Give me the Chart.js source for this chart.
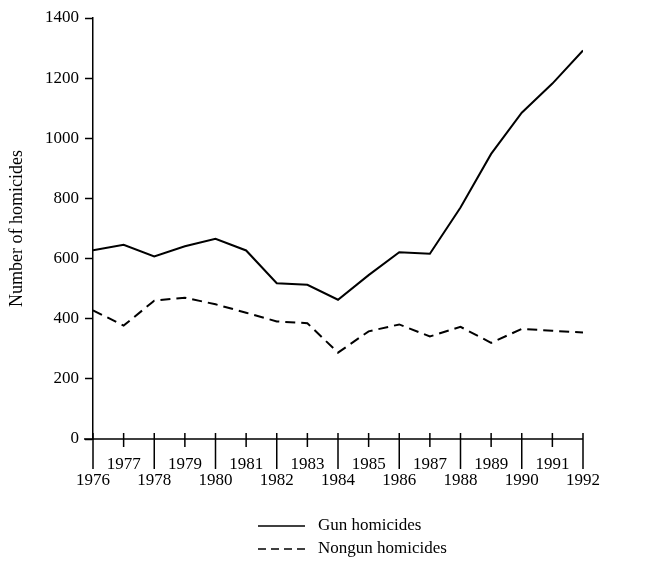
<!DOCTYPE html>
<html>
<head>
<meta charset="utf-8">
<script src="https://cdn.jsdelivr.net/npm/chart.js@4"></script>
<style>
  html, body { margin: 0; padding: 0; background: #fff; }
  #wrap { width: 658px; height: 562px; }
</style>
</head>
<body>
<div id="wrap"><canvas id="homicides" width="658" height="562"></canvas></div>
<script>
const years = [1976, 1977, 1978, 1979, 1980, 1981, 1982, 1983, 1984, 1985, 1986, 1987, 1988, 1989, 1990, 1991, 1992];
const gunHomicides = [628, 646, 607, 641, 666, 627, 518, 513, 463, 545, 621, 616, 770, 948, 1085, 1182, 1292];
const nongunHomicides = [428, 377, 460, 470, 448, 420, 391, 385, 287, 358, 381, 341, 373, 320, 366, 360, 354];
const yTicks = [0, 200, 400, 600, 800, 1000, 1200, 1400];

const serif = "'Liberation Serif', 'DejaVu Serif', serif";

// draws the x axis with its two tick lengths, and the legend under the chart
const axisAndLegend = {
  id: "axisAndLegend",
  afterDraw(chart) {
    const c = chart.ctx;
    const x = chart.scales.x;
    const y0 = chart.scales.y.getPixelForValue(0);
    c.save();
    c.strokeStyle = "#000";
    c.lineWidth = 1.5;
    c.beginPath();
    c.moveTo(chart.chartArea.left - 9, y0);
    c.lineTo(x.getPixelForValue(years[years.length - 1]), y0);
    years.forEach((yr) => {
      const px = x.getPixelForValue(yr);
      c.moveTo(px, y0 - 6);
      c.lineTo(px, yr % 2 === 0 ? y0 + 30 : y0 + 8);
    });
    c.stroke();

    // legend
    const lx = 258, lw = 47;
    const rows = [526, 549];
    chart.data.datasets.forEach((ds, i) => {
      c.setLineDash(i === 1 ? [8, 5] : []);
      c.lineWidth = 1.5;
      c.beginPath();
      c.moveTo(lx, rows[i]);
      c.lineTo(lx + lw, rows[i]);
      c.stroke();
      c.setLineDash([]);
      c.fillStyle = "#000";
      c.font = "17px " + serif;
      c.textBaseline = "middle";
      c.textAlign = "left";
      c.fillText(ds.label, lx + lw + 13, rows[i]);
    });
    c.restore();
  },
};

new Chart(document.getElementById("homicides"), {
  type: "line",
  data: {
    datasets: [
      {
        label: "Gun homicides",
        data: years.map((yr, i) => ({ x: yr, y: gunHomicides[i] })),
        borderColor: "#000",
        borderWidth: 2,
        pointRadius: 0,
        tension: 0,
      },
      {
        label: "Nongun homicides",
        data: years.map((yr, i) => ({ x: yr, y: nongunHomicides[i] })),
        borderColor: "#000",
        borderWidth: 2,
        borderDash: [10, 6],
        pointRadius: 0,
        tension: 0,
      },
    ],
  },
  options: {
    responsive: false,
    animation: false,
    layout: { padding: { top: 18, right: 75, left: 0, bottom: 0 } },
    plugins: { legend: { display: false }, tooltip: { enabled: false } },
    scales: {
      x: {
        type: "linear",
        min: years[0],
        max: years[years.length - 1],
        afterFit: (s) => { s.height = 123; },
        afterBuildTicks: (s) => { s.ticks = years.map((v) => ({ value: v })); },
        border: { display: false },
        grid: { display: false },
        ticks: {
          autoSkip: false,
          maxRotation: 0,
          padding: 9,
          color: "#000",
          font: { family: serif, size: 17, lineHeight: 0.95 },
          callback: (v) => (v % 2 === 0 ? ["", String(v)] : [String(v)]),
        },
      },
      y: {
        min: 0,
        max: 1400,
        afterFit: (s) => { s.width = 93; },
        afterBuildTicks: (s) => { s.ticks = yTicks.map((v) => ({ value: v })); },
        border: { display: true, color: "#000", width: 1.5 },
        grid: { drawOnChartArea: false, tickLength: 8, tickColor: "#000", tickWidth: 1.5 },
        ticks: {
          padding: 6,
          color: "#000",
          font: { family: serif, size: 17 },
          callback: (v) => String(v),
        },
        title: {
          display: true,
          text: "Number of homicides",
          color: "#000",
          font: { family: serif, size: 18 },
          padding: { top: 6, bottom: 0 },
        },
      },
    },
  },
  plugins: [axisAndLegend],
});
</script>
</body>
</html>
